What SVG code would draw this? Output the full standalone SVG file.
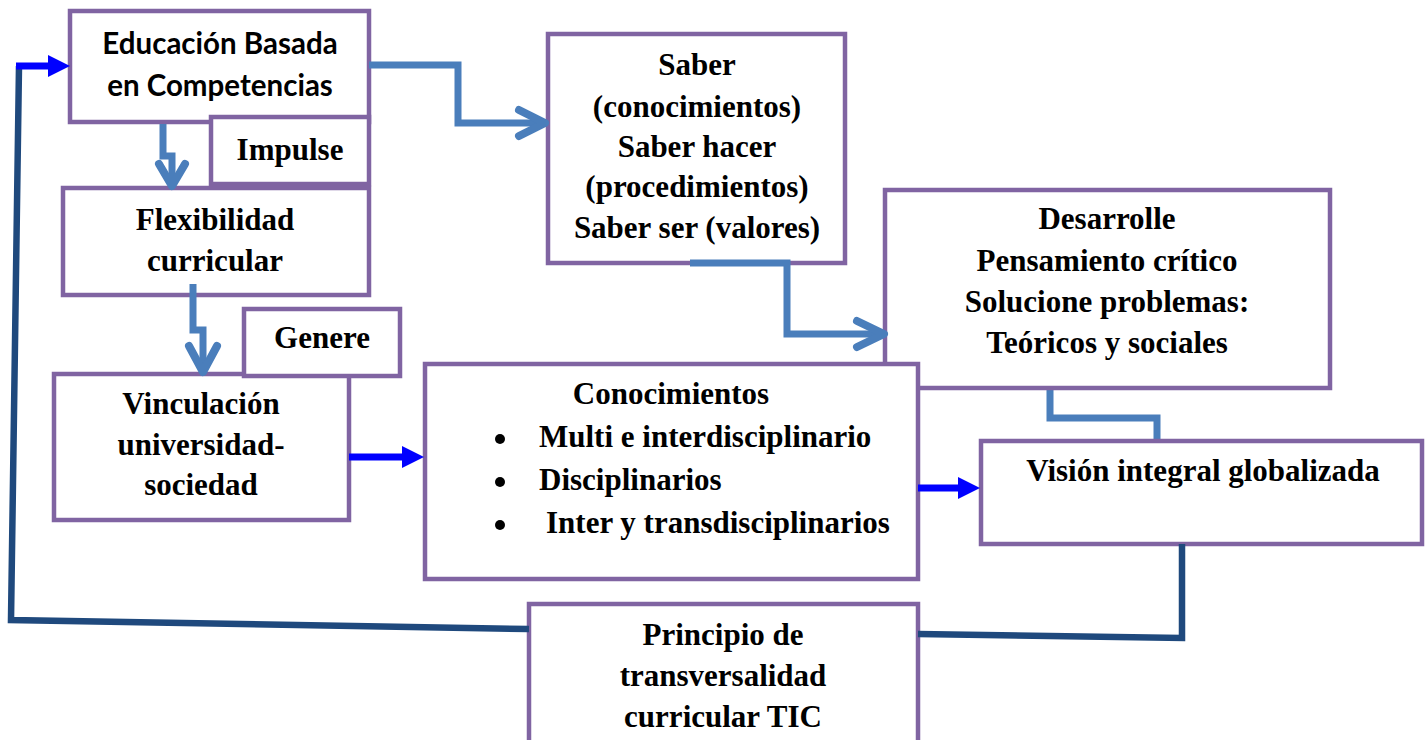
<svg xmlns="http://www.w3.org/2000/svg" width="1426" height="740" viewBox="0 0 1426 740">
<style>
.box{fill:#fff;stroke:#8064A2;stroke-width:4.5}
.t{font-family:"Liberation Serif","Times New Roman",serif;font-weight:bold;font-size:31px;fill:#000;text-anchor:middle}
.tl{text-anchor:start}
.c{font-family:Lato,"Liberation Sans",sans-serif;font-weight:bold;font-size:29.5px;fill:#000;text-anchor:middle}
.sb{fill:none;stroke:#4A7EBB;stroke-width:7;stroke-linejoin:miter}
.chev{fill:none;stroke:#4A7EBB;stroke-width:8;stroke-linecap:round;stroke-linejoin:round}
.db{fill:none;stroke:#1F497D;stroke-width:6.5;stroke-linejoin:miter}
.bb{fill:none;stroke:#0000FF;stroke-width:7}
.bh{fill:#0000FF}
</style>
<rect width="1426" height="740" fill="#fff"/>

<g id="connectors-back">
  <path class="sb" d="M1050,388 V418 H1157 V442"/>
</g>

<g id="node-desarrolle">
  <rect class="box" x="885" y="190" width="445" height="198"/>
  <text class="t" x="1107" y="229">Desarrolle</text>
  <text class="t" x="1107" y="271">Pensamiento crítico</text>
  <text class="t" x="1107" y="312">Solucione problemas:</text>
  <text class="t" x="1107" y="353">Teóricos y sociales</text>
</g>

<g id="node-educacion">
  <rect class="box" x="70" y="11" width="299" height="111"/>
  <text class="c" x="220" y="54">Educación Basada</text>
  <text class="c" x="220" y="96">en Competencias</text>
</g>

<g id="node-impulse">
  <rect class="box" x="211" y="117" width="158" height="67"/>
  <text class="t" x="290" y="160">Impulse</text>
</g>

<g id="node-flexibilidad">
  <rect class="box" x="63" y="188" width="306" height="107"/>
  <text class="t" x="215" y="230">Flexibilidad</text>
  <text class="t" x="215" y="271">curricular</text>
</g>

<g id="node-vinculacion">
  <rect class="box" x="54" y="374" width="295" height="146"/>
  <text class="t" x="201" y="414">Vinculación</text>
  <text class="t" x="201" y="455">universidad-</text>
  <text class="t" x="201" y="495">sociedad</text>
</g>

<g id="node-genere">
  <rect class="box" x="244" y="309" width="156" height="67"/>
  <text class="t" x="322" y="348">Genere</text>
</g>

<g id="node-saber">
  <rect class="box" x="548" y="34" width="297" height="229"/>
  <text class="t" x="697" y="75">Saber</text>
  <text class="t" x="697" y="117">(conocimientos)</text>
  <text class="t" x="697" y="157">Saber hacer</text>
  <text class="t" x="697" y="197">(procedimientos)</text>
  <text class="t" x="697" y="238">Saber ser (valores)</text>
</g>

<g id="node-conocimientos">
  <rect class="box" x="425" y="364" width="493" height="215"/>
  <text class="t" x="671" y="404">Conocimientos</text>
  <circle cx="500" cy="439" r="5"/>
  <circle cx="500" cy="482" r="5"/>
  <circle cx="500" cy="525" r="5"/>
  <text class="t tl" x="539" y="447">Multi e interdisciplinario</text>
  <text class="t tl" x="539" y="490">Disciplinarios</text>
  <text class="t tl" x="546" y="533">Inter y transdisciplinarios</text>
</g>

<g id="node-vision">
  <rect class="box" x="981" y="441" width="441" height="103"/>
  <text class="t" x="1203" y="481">Visión integral globalizada</text>
</g>

<g id="node-principio">
  <rect class="box" x="529" y="604" width="389" height="150"/>
  <text class="t" x="723" y="645">Principio de</text>
  <text class="t" x="723" y="686">transversalidad</text>
  <text class="t" x="723" y="727">curricular TIC</text>
</g>

<g id="connectors">
  <path class="sb" d="M369,65 H458 V123 H543"/>
  <polyline class="chev" points="519,110 545,123 519,136"/>
  <path class="sb" d="M163,124 V156 H172 V184"/>
  <polyline class="chev" points="159,164 172,186 185,164"/>
  <path class="sb" d="M193,284 V330 H203 V370"/>
  <polyline class="chev" points="189,346 203,372 217,346"/>
  <path class="sb" d="M690,263 H787 V334 H880"/>
  <polyline class="chev" points="857,321 884,334 857,347"/>
  <path class="bb" d="M349,457 H404"/>
  <polygon class="bh" points="402,446 424,457 402,468"/>
  <path class="bb" d="M918,488 H960"/>
  <polygon class="bh" points="958,477 980,488 958,499"/>
  <path class="db" d="M1182,544 V638 L918,634"/>
  <path class="db" d="M529,629 L11,620 L19,66"/>
  <path class="bb" d="M16,66 H50"/>
  <polygon class="bh" points="48,55 70,66 48,77"/>
</g>
</svg>
